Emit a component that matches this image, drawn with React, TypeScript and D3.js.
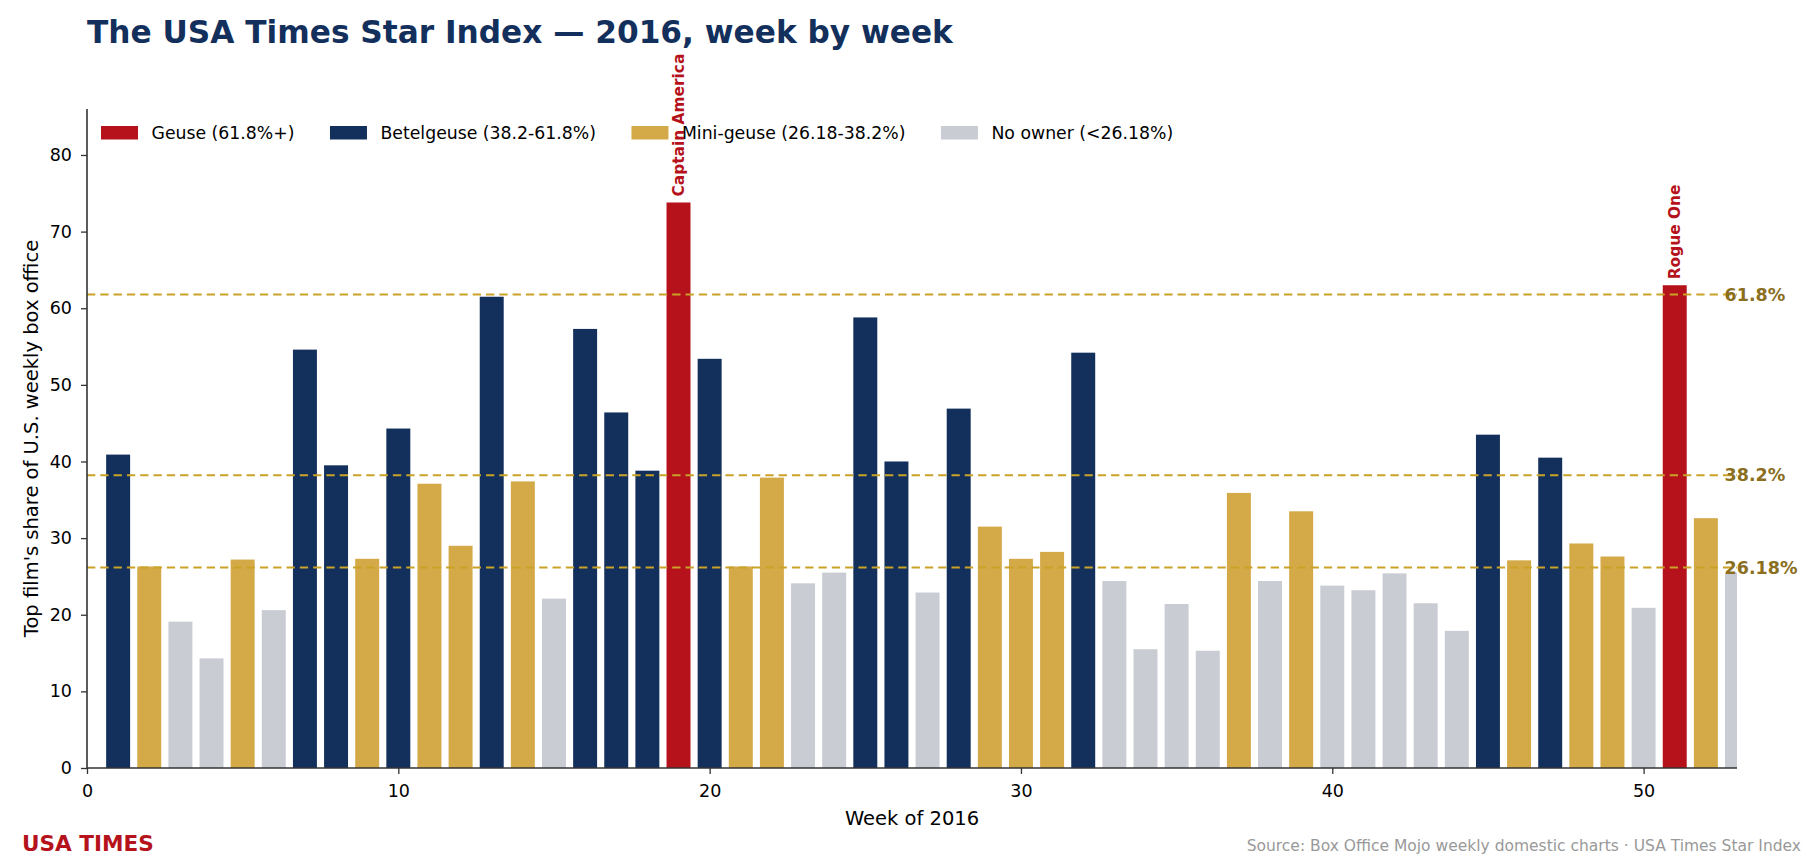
import { useEffect, useRef } from "react";
import * as d3 from "d3";

// week of 2016 (53rd week is partial and runs off the axis)
const weeks = [
  1, 2, 3, 4, 5, 6, 7, 8, 9, 10, 11, 12, 13, 14, 15, 16, 17, 18, 19, 20, 21, 22, 23, 24, 25, 26, 27,
  28, 29, 30, 31, 32, 33, 34, 35, 36, 37, 38, 39, 40, 41, 42, 43, 44, 45, 46, 47, 48, 49, 50, 51, 52,
  53,
];

// top film's share of weekly box office (%)
const shares = [
  40.9, 26.3, 19.1, 14.3, 27.2, 20.6, 54.6, 39.5, 27.3, 44.3, 37.1, 29.0, 61.5, 37.4, 22.1, 57.3,
  46.4, 38.8, 73.8, 53.4, 26.3, 37.9, 24.1, 25.5, 58.8, 40.0, 22.9, 46.9, 31.5, 27.3, 28.2, 54.2,
  24.4, 15.5, 21.4, 15.3, 35.9, 24.4, 33.5, 23.8, 23.2, 25.4, 21.5, 17.9, 43.5, 27.1, 40.5, 29.3,
  27.6, 20.9, 63.0, 32.6, 25.5,
];

const thresholds = [61.8, 38.2, 26.18];
const thresholdLabels = ["61.8%", "38.2%", "26.18%"];

const tierNames = ["Geuse (61.8%+)", "Betelgeuse (38.2-61.8%)", "Mini-geuse (26.18-38.2%)", "No owner (<26.18%)"];
const tierColors = ["#b5121b", "#13305c", "#d4a947", "#c9ccd3"];

const annotations = [
  { week: 19, label: "Captain America" },
  { week: 51, label: "Rogue One" },
];

const xTicks = [0, 10, 20, 30, 40, 50];
const yTicks = [0, 10, 20, 30, 40, 50, 60, 70, 80];

const W = 1820;
const H = 868;
const FONT = "DejaVu Sans, sans-serif";

function tierOf(v: number) {
  if (v >= thresholds[0]) return 0;
  if (v >= thresholds[1]) return 1;
  if (v >= thresholds[2]) return 2;
  return 3;
}

export default function App() {
  const ref = useRef<SVGSVGElement>(null);

  useEffect(() => {
    document.body.style.margin = "0";
    const svg = d3.select(ref.current);
    svg.selectAll("*").remove();

    const left = 87,
      right = 1737,
      top = 109,
      bottom = 768;

    const x = d3.scaleLinear().domain([0, 53]).range([left, right]);
    const y = d3.scaleLinear().domain([0, 86]).range([bottom, top]);
    const bw = x(0.77) - x(0);

    svg
      .append("defs")
      .append("clipPath")
      .attr("id", "plotClip")
      .append("rect")
      .attr("x", left)
      .attr("y", top)
      .attr("width", right - left)
      .attr("height", bottom - top);

    // title
    svg
      .append("text")
      .attr("x", 87)
      .attr("y", 43)
      .attr("fill", "#13305c")
      .style("font-family", FONT)
      .style("font-weight", "bold")
      .style("font-size", "31.2px")
      .text("The USA Times Star Index \u2014 2016, week by week");

    // bars
    const data = weeks.map((w, i) => ({ week: w, share: shares[i] }));
    svg
      .append("g")
      .attr("clip-path", "url(#plotClip)")
      .selectAll("rect")
      .data(data)
      .enter()
      .append("rect")
      .attr("x", (d) => x(d.week) - bw / 2)
      .attr("width", bw)
      .attr("y", (d) => y(d.share))
      .attr("height", (d) => y(0) - y(d.share))
      .attr("fill", (d) => tierColors[tierOf(d.share)]);

    // threshold lines
    svg
      .append("g")
      .selectAll("line")
      .data(thresholds)
      .enter()
      .append("line")
      .attr("x1", left)
      .attr("x2", right)
      .attr("y1", (d) => y(d))
      .attr("y2", (d) => y(d))
      .attr("stroke", "#c9a227")
      .attr("stroke-width", 2)
      .attr("stroke-dasharray", "8.3,5");

    svg
      .append("g")
      .selectAll("text")
      .data(thresholds)
      .enter()
      .append("text")
      .attr("x", x(52.6))
      .attr("y", (d) => y(d))
      .attr("dy", "0.35em")
      .attr("fill", "#8b6f1e")
      .style("font-family", FONT)
      .style("font-weight", "bold")
      .style("font-size", "17.5px")
      .text((d, i) => thresholdLabels[i]);

    // annotations
    svg
      .append("g")
      .selectAll("text")
      .data(annotations)
      .enter()
      .append("text")
      .attr("transform", (d) => `translate(${x(d.week)},${y(shares[weeks.indexOf(d.week)]) - 6}) rotate(-90)`)
      .attr("dy", "0.35em")
      .attr("fill", "#b5121b")
      .style("font-family", FONT)
      .style("font-weight", "bold")
      .style("font-size", "15.4px")
      .text((d) => d.label);

    // axes
    const axisColor = "#333333";
    const xAxis = svg
      .append("g")
      .attr("transform", `translate(0,${bottom})`)
      .call(d3.axisBottom(x).tickValues(xTicks).tickSize(6).tickPadding(10.5).tickSizeOuter(0));
    const yAxis = svg
      .append("g")
      .attr("transform", `translate(${left},0)`)
      .call(d3.axisLeft(y).tickValues(yTicks).tickSize(6).tickPadding(9).tickSizeOuter(0));

    [xAxis, yAxis].forEach((g) => {
      g.select(".domain").attr("stroke", axisColor).attr("stroke-width", 1.6);
      g.selectAll(".tick line").attr("stroke", axisColor).attr("stroke-width", 1.3);
      g.selectAll(".tick text")
        .attr("fill", "#000")
        .style("font-family", FONT)
        .style("font-size", "17.5px");
    });
    // extend domains to the full axis length
    xAxis.select(".domain").attr("d", `M${left},0H${right}`);
    yAxis.select(".domain").attr("d", `M0,${bottom}V${top}`);

    // axis labels
    svg
      .append("text")
      .attr("x", (left + right) / 2)
      .attr("y", 825)
      .attr("text-anchor", "middle")
      .style("font-family", FONT)
      .style("font-size", "19.5px")
      .text("Week of 2016");

    svg
      .append("text")
      .attr("transform", `translate(31,${(top + bottom) / 2}) rotate(-90)`)
      .attr("text-anchor", "middle")
      .attr("dy", "0.35em")
      .style("font-family", FONT)
      .style("font-size", "19.5px")
      .text("Top film's share of U.S. weekly box office");

    // legend
    const legend = svg.append("g");
    let lx = 101;
    tierNames.forEach((name, i) => {
      legend
        .append("rect")
        .attr("x", lx)
        .attr("y", 126)
        .attr("width", 37)
        .attr("height", 13.5)
        .attr("fill", tierColors[i]);
      const t = legend
        .append("text")
        .attr("x", lx + 50.5)
        .attr("y", 133)
        .attr("dy", "0.35em")
        .style("font-family", FONT)
        .style("font-size", "17.3px")
        .text(name);
      const tw = (t.node() as SVGTextElement).getComputedTextLength();
      lx = lx + 50.5 + tw + 35.5;
    });

    // footer
    svg
      .append("text")
      .attr("x", 22)
      .attr("y", 851)
      .attr("fill", "#b5121b")
      .style("font-family", FONT)
      .style("font-weight", "bold")
      .style("font-size", "21.6px")
      .text("USA TIMES");

    svg
      .append("text")
      .attr("x", 1801)
      .attr("y", 851)
      .attr("text-anchor", "end")
      .attr("fill", "#999999")
      .style("font-family", FONT)
      .style("font-size", "15.5px")
      .text("Source: Box Office Mojo weekly domestic charts \u00b7 USA Times Star Index");
  }, []);

  return <svg ref={ref} width={W} height={H} style={{ display: "block", background: "#fff" }} />;
}
